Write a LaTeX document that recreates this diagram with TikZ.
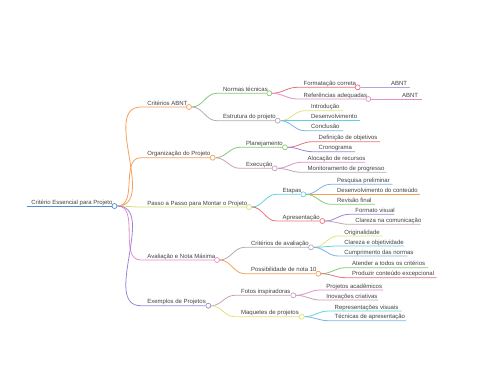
\documentclass[tikz,border=0pt]{standalone}
\usepackage{fontspec}
\setmainfont{Liberation Sans}
\usepackage{tikz}
\usepackage{xcolor}

\definecolor{cblue}{HTML}{4D8FD1}
\definecolor{corange}{HTML}{F5A05A}
\definecolor{colive}{HTML}{D6DE78}
\definecolor{cpink}{HTML}{E48FC8}
\definecolor{cpurple}{HTML}{9C86D9}
\definecolor{cgreen}{HTML}{86C97A}
\definecolor{cgray}{HTML}{B5A9B0}
\definecolor{cmauve}{HTML}{C7A0B8}
\definecolor{cred}{HTML}{E8707F}
\definecolor{ccyan}{HTML}{62D0E3}
\definecolor{cltblue}{HTML}{7FB2E5}
\definecolor{cyellow}{HTML}{E3E07A}
\definecolor{clav}{HTML}{A8A8E6}
\definecolor{ctext}{HTML}{404040}

\begin{document}
\begin{tikzpicture}[
    x=1pt, y=-1pt,
    lbl/.style={anchor=base west, inner sep=0pt, yshift=2pt, text=ctext, font=\fontsize{6}{7}\selectfont},
    dot/.style={circle, draw=#1, fill=white, line width=0.7pt, inner sep=0pt, minimum size=5pt},
    every path/.style={line width=0.8pt}
]
  \useasboundingbox (0,0) rectangle (480,384);

  % Root
  \coordinate (roots) at (27,206);
  \node[lbl] (root) at (31,206) {Critério Essencial para Projeto};
  \node[dot=cblue] (rootc) at (114.5,206) {};

  % Level 1
  \coordinate (abnts) at (141,107);
  \node[lbl] (abnt) at (147,107) {Critérios ABNT};
  \node[dot=corange] (abntc) at (189,107) {};
  \coordinate (orgs) at (141,157.7);
  \node[lbl] (org) at (147,157.7) {Organização do Projeto};
  \node[dot=corange] (orgc) at (212.7,157.7) {};
  \coordinate (passos) at (141,207);
  \node[lbl] (passo) at (147,207) {Passo a Passo para Montar o Projeto};
  \node[dot=colive] (passoc) at (249,207) {};
  \coordinate (avals) at (141,260);
  \node[lbl] (aval) at (147,260) {Avaliação e Nota Máxima};
  \node[dot=cpink] (avalc) at (217,260) {};
  \coordinate (exems) at (141,305.7);
  \node[lbl] (exem) at (147,305.7) {Exemplos de Projetos};
  \node[dot=cpurple] (exemc) at (208.3,305.7) {};

  % Level 2
  \coordinate (normass) at (216.7,93.3);
  \node[lbl] (normas) at (222.7,93.3) {Normas técnicas};
  \node[dot=cgreen] (normasc) at (269.3,93.3) {};
  \coordinate (estruts) at (216.7,120.7);
  \node[lbl] (estrut) at (222.7,120.7) {Estrutura do projeto};
  \node[dot=cgray] (estrutc) at (277.7,120.7) {};
  \coordinate (plans) at (239.7,147.3);
  \node[lbl] (plan) at (245.7,147.3) {Planejamento};
  \node[dot=cgreen] (planc) at (285,147.3) {};
  \coordinate (execs) at (239.7,168.3);
  \node[lbl] (exec) at (245.7,168.3) {Execução};
  \node[dot=cmauve] (execc) at (274.7,168.3) {};
  \coordinate (etapass) at (276.3,194.3);
  \node[lbl] (etapas) at (282.3,194.3) {Etapas};
  \node[dot=ccyan] (etapasc) at (303.3,194.3) {};
  \coordinate (apress) at (276.3,221);
  \node[lbl] (apres) at (282.3,221) {Apresentação};
  \node[dot=cred] (apresc) at (322.3,221) {};
  \coordinate (crits) at (244.7,247.3);
  \node[lbl] (crit) at (250.7,247.3) {Critérios de avaliação};
  \node[dot=cgray] (critc) at (311,247.3) {};
  \coordinate (notas) at (244.7,273.7);
  \node[lbl] (nota) at (250.7,273.7) {Possibilidade de nota 10};
  \node[dot=corange] (notac) at (318.3,273.7) {};
  \coordinate (fotoss) at (234.7,295.3);
  \node[lbl] (fotos) at (240.7,295.3) {Fotos inspiradoras};
  \node[dot=cmauve] (fotosc) at (293.3,295.3) {};
  \coordinate (maqs) at (234.7,316.7);
  \node[lbl] (maq) at (240.7,316.7) {Maquetes de projetos};
  \node[dot=cyellow] (maqc) at (301.7,316.7) {};

  % Level 3
  \coordinate (formts) at (297.3,87.3);
  \node[lbl] (formt) at (303.3,87.3) {Formatação correta};
  \node[dot=cred] (formtc) at (357.7,87.3) {};
  \coordinate (refss) at (297.3,99);
  \node[lbl] (refs) at (303.3,99) {Referências adequadas};
  \node[dot=cpink] (refsc) at (368.3,99) {};
  \coordinate (intros) at (304.7,110.7);
  \node[lbl] (intro) at (310.7,110.7) {Introdução};
  \coordinate (introe) at (343.3,110.7);
  \coordinate (desenvs) at (304.7,120.7);
  \node[lbl] (desenv) at (310.7,120.7) {Desenvolvimento};
  \coordinate (desenve) at (360,120.7);
  \coordinate (concls) at (304.7,130.7);
  \node[lbl] (concl) at (310.7,130.7) {Conclusão};
  \coordinate (concle) at (343,130.7);
  \coordinate (defobjs) at (312.3,141.7);
  \node[lbl] (defobj) at (318.3,141.7) {Definição de objetivos};
  \coordinate (defobje) at (380,141.7);
  \coordinate (cronos) at (312.3,151.7);
  \node[lbl] (crono) at (318.3,151.7) {Cronograma};
  \coordinate (cronoe) at (355,151.7);
  \coordinate (alocs) at (301.3,162.3);
  \node[lbl] (aloc) at (307.3,162.3) {Alocação de recursos};
  \coordinate (aloce) at (365,162.3);
  \coordinate (monits) at (301.3,172.3);
  \node[lbl] (monit) at (307.3,172.3) {Monitoramento de progresso};
  \coordinate (monite) at (386.7,172.3);
  \coordinate (pesqs) at (330.7,184.3);
  \node[lbl] (pesq) at (336.7,184.3) {Pesquisa preliminar};
  \coordinate (pesqe) at (392.7,184.3);
  \coordinate (desconts) at (330.7,194.3);
  \node[lbl] (descont) at (336.7,194.3) {Desenvolvimento do conteúdo};
  \coordinate (desconte) at (420,194.3);
  \coordinate (reviss) at (330.7,204.3);
  \node[lbl] (revis) at (336.7,204.3) {Revisão final};
  \coordinate (revise) at (375,204.3);
  \coordinate (formvs) at (349,214.3);
  \node[lbl] (formv) at (355,214.3) {Formato visual};
  \coordinate (formve) at (394.3,214.3);
  \coordinate (clarcoms) at (349,224.3);
  \node[lbl] (clarcom) at (355,224.3) {Clareza na comunicação};
  \coordinate (clarcome) at (420.7,224.3);
  \coordinate (origs) at (338,236);
  \node[lbl] (orig) at (344,236) {Originalidade};
  \coordinate (orige) at (382.7,236);
  \coordinate (clarobjs) at (338,246);
  \node[lbl] (clarobj) at (344,246) {Clareza e objetividade};
  \coordinate (clarobje) at (404,246);
  \coordinate (cumprs) at (338,256);
  \node[lbl] (cumpr) at (344,256) {Cumprimento das normas};
  \coordinate (cumpre) at (407.3,256);
  \coordinate (atends) at (345.7,267.7);
  \node[lbl] (atend) at (351.7,267.7) {Atender a todos os critérios};
  \coordinate (atende) at (428.3,267.7);
  \coordinate (prods) at (345.7,277.7);
  \node[lbl] (prod) at (351.7,277.7) {Produzir conteúdo excepcional};
  \coordinate (prode) at (436.7,277.7);
  \coordinate (acads) at (320,290);
  \node[lbl] (acad) at (326,290) {Projetos acadêmicos};
  \coordinate (acade) at (383.3,290);
  \coordinate (inovs) at (320,300);
  \node[lbl] (inov) at (326,300) {Inovações criativas};
  \coordinate (inove) at (378.3,300);
  \coordinate (reprs) at (328.3,311);
  \node[lbl] (repr) at (334.3,311) {Representações visuais};
  \coordinate (repre) at (401.7,311);
  \coordinate (tecns) at (328.3,320.7);
  \node[lbl] (tecn) at (334.3,320.7) {Técnicas de apresentação};
  \coordinate (tecne) at (406,320.7);

  % Level 4
  \node[lbl] (abnta) at (390.7,87.3) {ABNT};
  \coordinate (abntae) at (410,87.3);
  \node[lbl] (abntb) at (401.7,99) {ABNT};
  \coordinate (abntbe) at (421.7,99);

  % Root and level 1 connectors
  \draw[cblue, line width=1pt] (roots) -- (rootc);
  \draw[corange] (rootc) to[out=0, in=180] (abnts) -- (abntc);
  \draw[corange] (rootc) to[out=0, in=180] (orgs) -- (orgc);
  \draw[colive] (rootc) to[out=0, in=180] (passos) -- (passoc);
  \draw[cpink] (rootc) to[out=0, in=180] (avals) -- (avalc);
  \draw[cpurple] (rootc) to[out=0, in=180] (exems) -- (exemc);

  % Level 2 connectors
  \draw[cgreen] (abntc) to[out=0, in=180] (normass) -- (normasc);
  \draw[cgray] (abntc) to[out=0, in=180] (estruts) -- (estrutc);
  \draw[cgreen] (orgc) to[out=0, in=180] (plans) -- (planc);
  \draw[cmauve] (orgc) to[out=0, in=180] (execs) -- (execc);
  \draw[ccyan] (passoc) to[out=0, in=180] (etapass) -- (etapasc);
  \draw[cred] (passoc) to[out=0, in=180] (apress) -- (apresc);
  \draw[cgray] (avalc) to[out=0, in=180] (crits) -- (critc);
  \draw[corange] (avalc) to[out=0, in=180] (notas) -- (notac);
  \draw[cmauve] (exemc) to[out=0, in=180] (fotoss) -- (fotosc);
  \draw[cyellow] (exemc) to[out=0, in=180] (maqs) -- (maqc);

  % Level 3 connectors
  \draw[cred] (normasc) to[out=0, in=180] (formts) -- (formtc);
  \draw[cpink] (normasc) to[out=0, in=180] (refss) -- (refsc);
  \draw[cyellow] (estrutc) to[out=0, in=180] (intros) -- (introe);
  \draw[ccyan] (estrutc) to[out=0, in=180] (desenvs) -- (desenve);
  \draw[cltblue] (estrutc) to[out=0, in=180] (concls) -- (concle);
  \draw[cred] (planc) to[out=0, in=180] (defobjs) -- (defobje);
  \draw[cpurple] (planc) to[out=0, in=180] (cronos) -- (cronoe);
  \draw[cpink] (execc) to[out=0, in=180] (alocs) -- (aloce);
  \draw[cgray] (execc) to[out=0, in=180] (monits) -- (monite);
  \draw[cltblue] (etapasc) to[out=0, in=180] (pesqs) -- (pesqe);
  \draw[corange] (etapasc) to[out=0, in=180] (desconts) -- (desconte);
  \draw[cgreen] (etapasc) to[out=0, in=180] (reviss) -- (revise);
  \draw[cpurple] (apresc) to[out=0, in=180] (formvs) -- (formve);
  \draw[cmauve] (apresc) to[out=0, in=180] (clarcoms) -- (clarcome);
  \draw[cyellow] (critc) to[out=0, in=180] (origs) -- (orige);
  \draw[ccyan] (critc) to[out=0, in=180] (clarobjs) -- (clarobje);
  \draw[cltblue] (critc) to[out=0, in=180] (cumprs) -- (cumpre);
  \draw[cgreen] (notac) to[out=0, in=180] (atends) -- (atende);
  \draw[cred] (notac) to[out=0, in=180] (prods) -- (prode);
  \draw[cpink] (fotosc) to[out=0, in=180] (acads) -- (acade);
  \draw[cmauve] (fotosc) to[out=0, in=180] (inovs) -- (inove);
  \draw[ccyan] (maqc) to[out=0, in=180] (reprs) -- (repre);
  \draw[cltblue] (maqc) to[out=0, in=180] (tecns) -- (tecne);

  % Level 4 connectors
  \draw[clav] (formtc) -- (abntae);
  \draw[cpink] (refsc) -- (abntbe);
\end{tikzpicture}
\end{document}
